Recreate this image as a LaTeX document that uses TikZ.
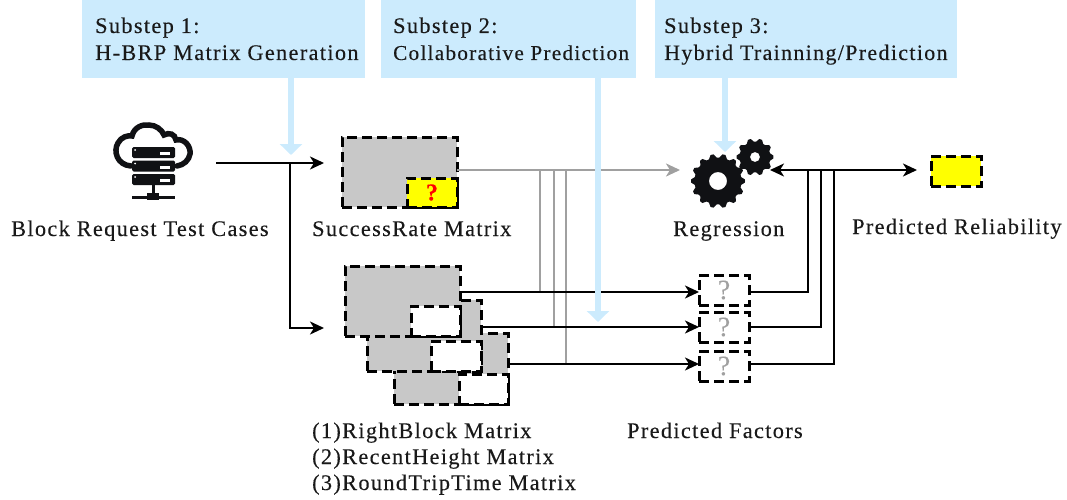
\documentclass[tikz,border=0pt]{standalone}
\usepackage{fontspec}
\setmainfont{Liberation Serif}[LetterSpace=6,FakeBold=0.25]
\usetikzlibrary{arrows.meta}
\definecolor{subblue}{HTML}{CCEBFD}
\definecolor{cellgray}{HTML}{C8C8C8}
\definecolor{linegray}{HTML}{A0A0A0}
\definecolor{iconblack}{HTML}{101114}
\definecolor{cellyellow}{RGB}{255,255,0}
\definecolor{qred}{RGB}{255,0,0}
\tikzset{
  x=1pt,y=-1pt,
  lbl/.style={font=\fontsize{22.3}{26}\selectfont,inner sep=0pt,anchor=base west,align=left,text=black!90},
  substep/.style={fill=subblue,draw=none,inner sep=0pt,outer sep=0pt,anchor=north west},
  bluearrow/.style={draw=subblue,line width=6.5pt,-{Triangle[length=11pt,width=22pt]}},
  cell/.style={draw=none,inner sep=0pt,outer sep=0pt,anchor=north west},
  dashbox/.style={draw=black,line width=3pt,dash pattern=on 10pt off 5pt},
  flow/.style={draw=black,line width=2pt,-{Stealth[length=14pt,width=13pt,inset=4pt]}},
  plain/.style={draw=black,line width=2pt},
  grayflow/.style={draw=linegray,line width=2.4pt,-{Stealth[length=14pt,width=13pt,inset=4pt]}},
  grayline/.style={draw=linegray,line width=2.4pt},
  qcell/.style={cell,dashbox,minimum width=50pt,minimum height=30pt,text=linegray,font=\fontsize{28}{28}\selectfont},
}
\newcommand{\gear}[6]{% x y outer inner teeth hole
  \fill[iconblack,even odd rule]
    plot[smooth cycle,tension=0.05,samples at={0,1,...,\numexpr 4*#5-1\relax},variable=\k]
      ({#1+(#3-(mod(\k,4)<2?0:(#3-#4)))*cos((\k-0.5)*90/#5)},{#2+(#3-(mod(\k,4)<2?0:(#3-#4)))*sin((\k-0.5)*90/#5)})
    (#1+#6,#2) arc[start angle=0,end angle=360,radius=#6];}
\begin{document}
\begin{tikzpicture}
\useasboundingbox (0,0) rectangle (1067,500);
% substep panels
\node[substep,minimum width=283pt,minimum height=78pt] (s1) at (82,0) {};
\node[substep,minimum width=255pt,minimum height=78pt] (s2) at (381,0) {};
\node[substep,minimum width=302pt,minimum height=78pt] (s3) at (655,0) {};
\node[lbl] (s1a) at (95,33) {Substep 1:};
\node[lbl] (s1b) at (95,60) {H-BRP Matrix Generation};
\node[lbl] (s2a) at (393,33) {Substep 2:};
\node[lbl,font=\fontsize{21.2}{26}\selectfont] (s2b) at (393,60) {Collaborative Prediction};
\node[lbl] (s3a) at (664,33) {Substep 3:};
\node[lbl,font=\fontsize{22}{26}\selectfont] (s3b) at (664,60) {Hybrid Trainning/Prediction};
% icon
\begin{scope}
\draw[iconblack,line width=5.5pt,line cap=round]
  (131,166) .. controls (117,165) and (113,151) .. (118,143)
  .. controls (121,137) and (128,135) .. (132,136)
  .. controls (134,127) and (143,124) .. (149,125)
  .. controls (156,125) and (162,130) .. (164,135)
  .. controls (169,132) and (175,134) .. (176,140)
  .. controls (184,138) and (191,146) .. (190,154)
  .. controls (189,160) and (184,165) .. (177,166);
\foreach \y in {147,160.5,174}{
  \fill[iconblack,rounded corners=1.5pt] (132,\y) rectangle (175,\y+11);
  \fill[white] (135,\y+3) circle (1pt);
  \fill[white] (160,\y+5) rectangle (170,\y+8);
}
\fill[iconblack] (151.5,185) rectangle (154.5,197);
\fill[iconblack] (132,195.5) rectangle (175,199);
\fill[iconblack] (147,193) rectangle (159,200);
\end{scope}
\coordinate (input) at (216,163);
\coordinate (split) at (290,163);
\coordinate (inS) at (324,163);
\coordinate (inM) at (324,328);
% success rate matrix
\node[cell,fill=cellgray,dashbox,minimum width=115pt,minimum height=70pt] (sm) at (342,137) {};
\node[cell,fill=cellyellow,dashbox,minimum width=50pt,minimum height=29pt,text=qred,font=\fontsize{24}{24}\selectfont\bfseries] (smq) at (407,178) {?};
% matrices
\node[cell,fill=cellgray,dashbox,minimum width=114pt,minimum height=71pt] (m3) at (394,333) {};
\node[cell,fill=white,dashbox,minimum width=49pt,minimum height=30pt] (m3w) at (459,374) {};
\node[cell,fill=cellgray,dashbox,minimum width=114pt,minimum height=71pt] (m2) at (367,300) {};
\node[cell,fill=white,dashbox,minimum width=50pt,minimum height=30pt] (m2w) at (431,341) {};
\node[cell,fill=cellgray,dashbox,minimum width=115pt,minimum height=70pt] (m1) at (345,266) {};
\node[cell,fill=white,dashbox,minimum width=49pt,minimum height=30pt] (m1w) at (411,306) {};
% predicted factor cells
\node[qcell] (q1) at (699,275) {?};
\node[qcell] (q2) at (699,312) {?};
\node[qcell] (q3) at (699,351) {?};
% output
\node[cell,fill=cellyellow,dashbox,minimum width=50pt,minimum height=30pt] (out) at (931,156) {};
% gears
\gear{718}{181}{27}{23.5}{14}{9}
\gear{755}{157}{18.5}{15.5}{10}{5}
\coordinate (reg) at (680,170);
\coordinate (regR) at (770,170);
\coordinate (outL) at (917,170);
% gray lines
\coordinate (smR) at (457,170);
\draw[grayflow] (smR) -- (reg);
\coordinate (g1) at (540,170); \coordinate (g2) at (554,170); \coordinate (g3) at (566,170);
\coordinate (l1) at (460,292); \coordinate (l2) at (481,327); \coordinate (l3) at (508,364);
\draw[grayline] (g1) -- (g1 |- l1);
\draw[grayline] (g2) -- (g2 |- l2);
\draw[grayline] (g3) -- (g3 |- l3);
% black flows
\draw[plain] (input) -- (split);
\draw[flow] (input) -- (inS);
\draw[flow] (split) -- (split |- inM) -- (inM);
\draw[flow] (l1) -- (q1.west |- l1);
\draw[flow] (l2) -- (q2.west |- l2);
\draw[flow] (l3) -- (q3.west |- l3);
\coordinate (v1) at (808,170); \coordinate (v2) at (821,170); \coordinate (v3) at (834,170);
\draw[plain] (q1.east |- l1) -- (v1 |- l1) -- (v1);
\draw[plain] (q2.east |- l2) -- (v2 |- l2) -- (v2);
\draw[plain] (q3.east |- l3) -- (v3 |- l3) -- (v3);
\draw[flow,{Stealth[length=14pt,width=13pt,inset=4pt]}-{Stealth[length=14pt,width=13pt,inset=4pt]}] (regR) -- (outL);
% substep arrows
\draw[bluearrow] (s1.south -| 291,0) -- (291,155);
\draw[bluearrow] (s2.south -| 598,0) -- (598,322);
\draw[bluearrow] (s3.south -| 725,0) -- (725,152);
% labels
\node[lbl] (t1) at (11,236) {Block Request Test Cases};
\node[lbl] (t2) at (312,236) {SuccessRate Matrix};
\node[lbl] (t3) at (673,236) {Regression};
\node[lbl] (t4) at (852,234) {Predicted Reliability};
\node[lbl] (t5) at (627,438) {Predicted Factors};
\node[lbl] (t6) at (312,438) {(1)RightBlock Matrix};
\node[lbl] (t7) at (312,464) {(2)RecentHeight Matrix};
\node[lbl] (t8) at (312,490) {(3)RoundTripTime Matrix};
\end{tikzpicture}
\end{document}
